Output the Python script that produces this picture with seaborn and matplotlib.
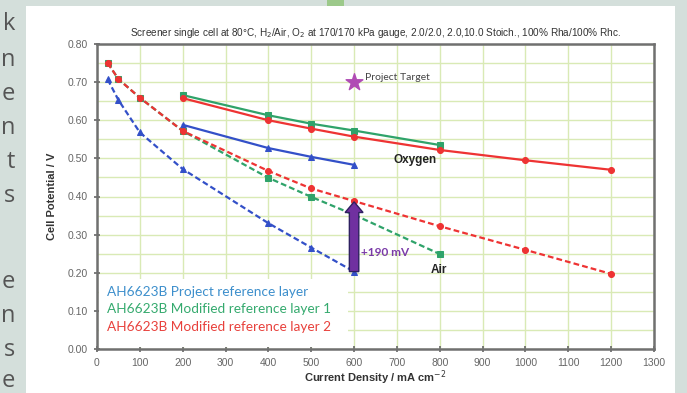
import matplotlib
matplotlib.use("Agg")
import matplotlib.pyplot as plt
from matplotlib.patches import Rectangle, FancyArrow
from matplotlib.ticker import MultipleLocator
import numpy as np
import pandas as pd
import seaborn as sns

# data
ref_air_x = [25, 50, 100, 200, 400, 500, 600]
ref_air_y = [0.707, 0.653, 0.568, 0.472, 0.330, 0.266, 0.203]
ref_o2_x = [200, 400, 500, 600]
ref_o2_y = [0.588, 0.527, 0.504, 0.483]

mod1_air_x = [25, 50, 100, 200, 400, 500, 600, 800]
mod1_air_y = [0.750, 0.708, 0.659, 0.572, 0.449, 0.399, 0.352, 0.249]
mod1_o2_x = [200, 400, 500, 600, 800]
mod1_o2_y = [0.666, 0.613, 0.591, 0.573, 0.535]

mod2_air_x = [25, 50, 100, 200, 400, 500, 600, 800, 1000, 1200]
mod2_air_y = [0.750, 0.708, 0.659, 0.572, 0.467, 0.421, 0.388, 0.322, 0.260, 0.197]
mod2_o2_x = [200, 400, 500, 600, 800, 1000, 1200]
mod2_o2_y = [0.658, 0.600, 0.578, 0.557, 0.522, 0.495, 0.470]

target_x = [600]
target_y = [0.70]

legend_labels = ["AH6623B Project reference layer",
                 "AH6623B Modified reference layer 1",
                 "AH6623B Modified reference layer 2"]

title = ("Screener single cell at 80°C, H$_2$/Air, O$_2$ at 170/170 kPa gauge, "
         "2.0/2.0, 2.0,10.0 Stoich., 100% Rha/100% Rhc.")

sns.set_style("white")
plt.rcParams['font.family'] = ['Liberation Sans', 'DejaVu Sans']

W, H = 687, 393
fig = plt.figure(figsize=(W / 100, H / 100), dpi=100)
fig.patch.set_facecolor("#d4dfdb")

# white page panel and little green tab on top
fig.add_artist(Rectangle((26 / W, 0), (675 - 26) / W, (H - 6) / H,
                         transform=fig.transFigure, facecolor="white", edgecolor="none", zorder=0))
fig.add_artist(Rectangle((327 / W, (H - 6) / H), 17 / W, 6 / H,
                         transform=fig.transFigure, facecolor="#9cc98a", edgecolor="none", zorder=0))

# cut-off letters of the page text on the left
left_letters = ["k", "n", "e", "n", "t", "s", "e", "n", "s", "e"]
letter_y = [24, 60, 94, 128, 162, 196, 282, 316, 350, 381]
for ch, yy in zip(left_letters, letter_y):
    fig.text(15 / W, 1 - yy / H, ch, ha="right", va="center", fontsize=17,
             color="#555555", family="Open Sans")

ax = fig.add_axes([97 / W, (H - 349) / H, (654 - 97) / W, (349 - 44) / H])
ax.set_facecolor("white")

blue = "#3350c8"
green = "#2fa36a"
red = "#ee3333"

series = [
    (ref_air_x, ref_air_y, blue, "^", (0, (2.6, 1.4))),
    (ref_o2_x, ref_o2_y, blue, "^", "-"),
    (mod1_air_x, mod1_air_y, green, "s", (0, (2.6, 1.4))),
    (mod1_o2_x, mod1_o2_y, green, "s", "-"),
    (mod2_air_x, mod2_air_y, red, "o", (0, (2.6, 1.4))),
    (mod2_o2_x, mod2_o2_y, red, "o", "-"),
]
for xs, ys, c, m, ls in series:
    df = pd.DataFrame({"x": xs, "y": ys})
    sns.lineplot(data=df, x="x", y="y", ax=ax, color=c, marker=m, markersize=4.3,
                 markeredgecolor=c, linestyle=ls, linewidth=1.6, sort=False,
                 estimator=None, zorder=4)

sns.scatterplot(x=target_x, y=target_y, ax=ax, marker="*", s=160, color="#b04cb4",
                edgecolor="#b04cb4", zorder=5)
ax.text(625, 0.712, "Project Target", fontsize=7.5, color="#444444", family="Lato",
        ha="left", va="center")

ax.text(742, 0.497, "Oxygen", fontsize=8.5, fontweight="bold", color="#222222",
        ha="center", va="center")
ax.text(798, 0.208, "Air", fontsize=8.5, fontweight="bold", color="#222222",
        ha="center", va="center")
ax.text(672, 0.252, "+190 mV", fontsize=8.5, fontweight="bold", color="#7a3aa8",
        family="Lato", ha="center", va="center")

arrow = FancyArrow(600, 0.203, 0, 0.183, width=22, head_width=42, head_length=0.028,
                   length_includes_head=True, facecolor="#7030a0", edgecolor="#2e2060",
                   linewidth=1.0, zorder=6)
ax.add_patch(arrow)

ax.set_xlim(0, 1300)
ax.set_ylim(0, 0.8)
ax.xaxis.set_major_locator(MultipleLocator(100))
ax.yaxis.set_major_locator(MultipleLocator(0.1))
ax.yaxis.set_minor_locator(MultipleLocator(0.05))
ax.yaxis.set_major_formatter(plt.FuncFormatter(lambda v, p: f"{v:.2f}"))
ax.grid(True, which="both", color="#d9eab5", linewidth=1.0, zorder=0)
ax.set_axisbelow(True)
for sp in ax.spines.values():
    sp.set_color("#707070")
    sp.set_linewidth(1.8)
ax.tick_params(axis="both", which="both", direction="inout", length=5, width=1.2,
               color="#666666", labelsize=7.5, labelcolor="#666666", pad=4)
ax.tick_params(axis="y", which="minor", length=4)
ax.tick_params(left=True, bottom=True)

ax.set_xlabel("Current Density / mA cm$^{-2}$", fontsize=8, fontweight="bold",
              color="#333333", labelpad=0)
ax.set_ylabel("Cell Potential / V", fontsize=8, fontweight="bold", color="#333333",
              labelpad=8)
ax.set_title(title, fontsize=7.2, color="#333333", pad=6)

# legend as coloured text in a white box
ax.add_patch(Rectangle((0.003, 0.006), 0.447, 0.222, transform=ax.transAxes,
                       facecolor="white", edgecolor="none", zorder=2))
leg_colors = ["#3d8fcc", "#35aa6e", "#e8413c"]
leg_y = [0.187, 0.131, 0.073]
for lab, c, yy in zip(legend_labels, leg_colors, leg_y):
    ax.text(0.018, yy, lab, transform=ax.transAxes, fontsize=9.8, color=c,
            family="Lato", ha="left", va="center", zorder=3)

fig.savefig("out.png", dpi=100, facecolor=fig.get_facecolor())
